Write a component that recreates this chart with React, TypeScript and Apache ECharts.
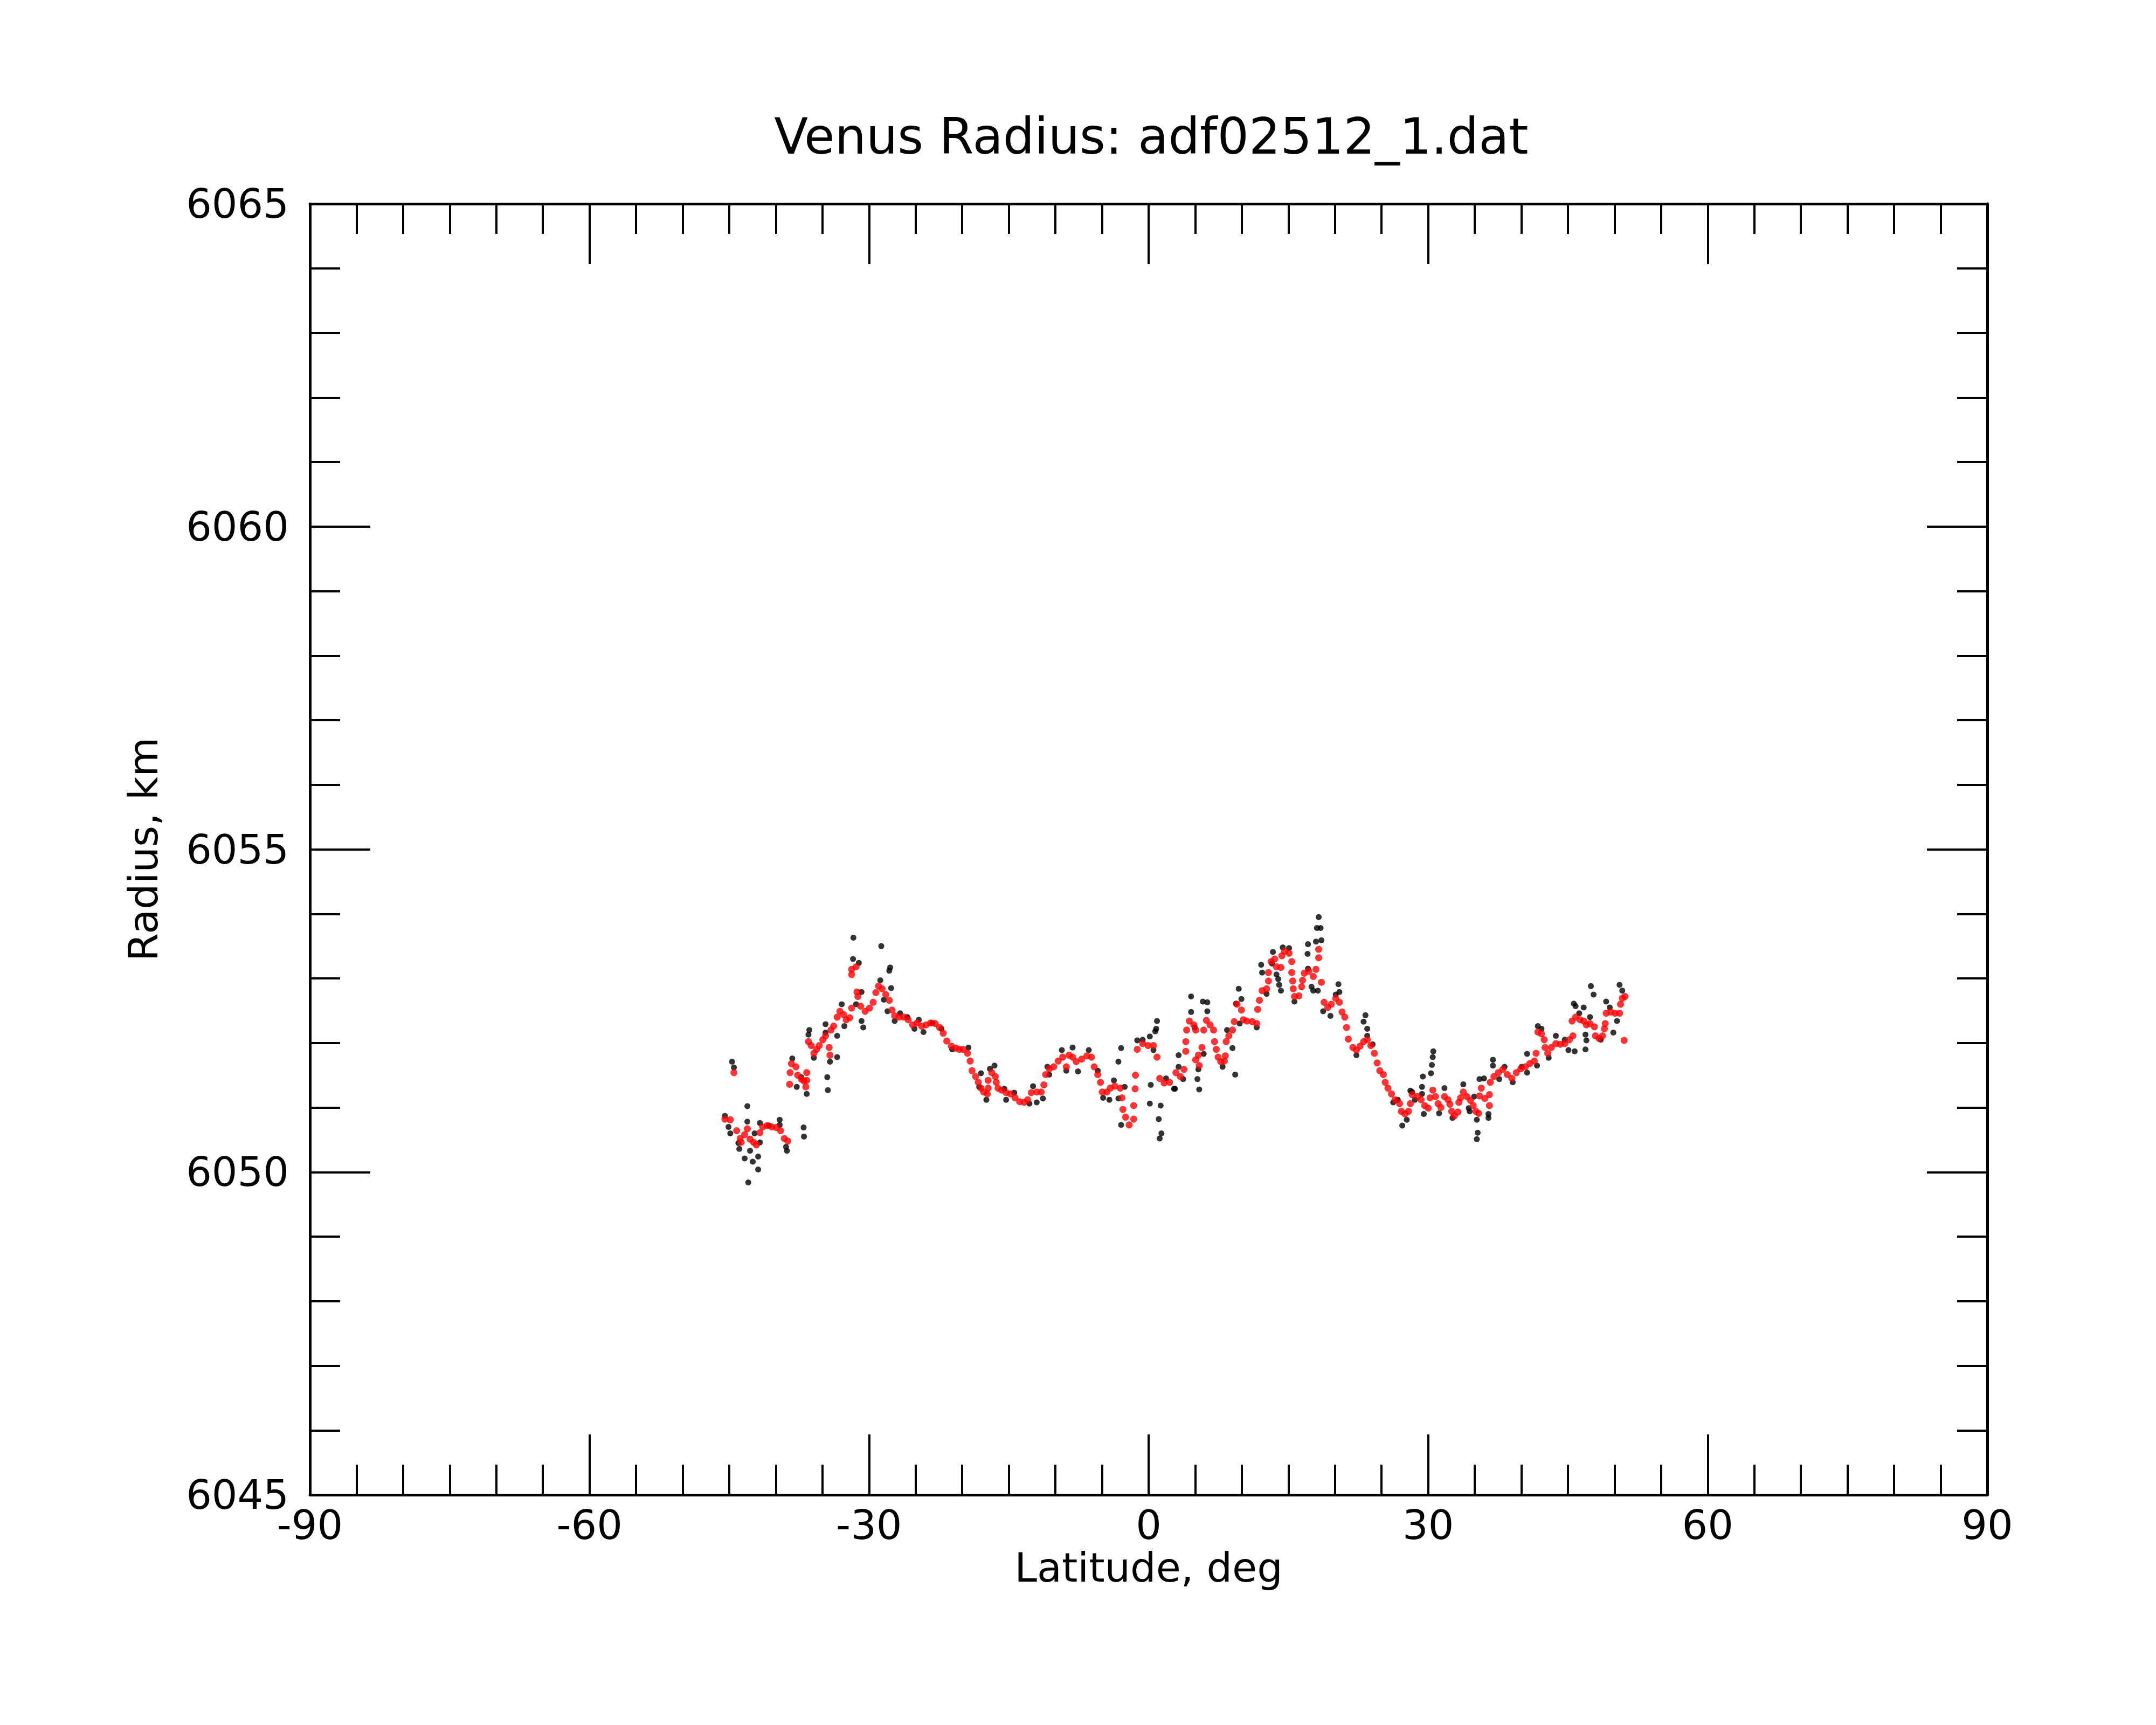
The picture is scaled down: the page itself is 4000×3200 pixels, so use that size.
import React, { useEffect, useRef } from "react";
import * as echarts from "echarts";

const TITLE = "Venus Radius: adf02512_1.dat";
const X_NAME = "Latitude, deg";
const Y_NAME = "Radius, km";
const X_MIN = -90;
const X_MAX = 90;
const X_STEP = 30;
const Y_MIN = 6045;
const Y_MAX = 6065;
const Y_STEP = 5;

// Black points: [latitude deg, radius km]
const blackPoints: [number, number][] = [
  [-44.7, 6051.71], [-44.5, 6051.62], [-45.47, 6050.87], [-45.08, 6050.7], [-44.89, 6050.6],
  [-44.02, 6050.45], [-43.92, 6050.36], [-43.35, 6050.21], [-43.06, 6051.02], [-43.06, 6050.78],
  [-42.77, 6050.33], [-42.48, 6050.16], [-41.9, 6050.24], [-41.9, 6050.04], [-42.96, 6049.84],
  [-42.28, 6050.6], [-41.71, 6050.76], [-41.71, 6050.46], [-40.74, 6050.72], [-39.59, 6050.81],
  [-39.59, 6050.73], [-38.91, 6050.39], [-38.81, 6050.33], [-37.02, 6050.69], [-36.98, 6050.55],
  [-38.24, 6051.76], [-37.76, 6051.32], [-37.27, 6051.47], [-36.69, 6051.21], [-36.41, 6052.2],
  [-36.5, 6052.13], [-35.92, 6051.77], [-34.67, 6052.29], [-34.67, 6052.16], [-34.48, 6051.47],
  [-34.42, 6051.27], [-34.19, 6051.71], [-33.42, 6051.78], [-33.42, 6052.11], [-32.93, 6052.6],
  [-32.65, 6052.26], [-31.68, 6053.63], [-31.72, 6053.3], [-31.1, 6053.24], [-30.81, 6052.79],
  [-30.81, 6052.34], [-30.62, 6052.24], [-31.39, 6052.6], [-28.69, 6053.5], [-27.73, 6053.17],
  [-27.83, 6053.12], [-28.79, 6052.97], [-27.63, 6052.85], [-28.02, 6052.49], [-28.41, 6052.67],
  [-27.25, 6052.34], [-26.67, 6052.46], [-25.9, 6052.4], [-25.13, 6052.22], [-24.66, 6052.36],
  [-24.16, 6052.17], [-23.2, 6052.31], [-22.23, 6052.22], [-21.08, 6051.9],
  [-19.34, 6051.93], [-17.99, 6051.53], [-18.18, 6051.32], [-17.41, 6051.12], [-17.03, 6051.6],
  [-16.54, 6051.65], [-15.48, 6051.29], [-15.29, 6051.12], [-14.42, 6051.23], [-12.79, 6051.06],
  [-12.4, 6051.33], [-12.01, 6051.08], [-11.34, 6051.14], [-10.86, 6051.63], [-10.66, 6051.51],
  [-9.31, 6051.89], [-8.83, 6051.57], [-8.16, 6051.93], [-7.58, 6051.56], [-6.42, 6051.89],
  [-5.46, 6051.57], [-4.88, 6051.15], [-4.21, 6051.12], [-3.72, 6051.42], [-2.57, 6051.32],
  [-3.24, 6051.14], [-2.95, 6050.73], [-2.95, 6051.92], [-3.24, 6051.71], [-1.22, 6052.04],
  [-0.64, 6052.05], [0.13, 6052.1], [0.71, 6052.18], [0.9, 6052.34], [0.81, 6052.22],
  [0.52, 6051.89], [0.23, 6051.35], [0.13, 6051.06], [1.29, 6051.03], [1.09, 6050.82],
  [1.38, 6050.6], [1.19, 6050.52], [1.87, 6051.45], [2.73, 6051.29],
  [2.83, 6051.29], [3.22, 6051.81], [3.22, 6051.63], [3.7, 6051.44], [4.56, 6052.72],
  [4.56, 6052.48], [4.95, 6052.24], [5.82, 6052.64], [6.3, 6052.63], [6.3, 6052.49],
  [5.91, 6051.83], [5.34, 6051.59], [5.24, 6051.44], [5.43, 6051.28], [7.94, 6051.63],
  [8.42, 6052.2], [9.0, 6051.92], [9.29, 6051.51], [9.67, 6052.84], [9.96, 6052.68],
  [9.38, 6052.61], [9.77, 6052.3], [11.6, 6052.24], [12.08, 6053.21], [12.18, 6053.09],
  [12.66, 6052.76], [13.34, 6053.41], [13.24, 6053.23], [13.72, 6053.06], [13.91, 6052.99],
  [14.01, 6052.9], [14.2, 6052.81], [14.4, 6053.48], [15.07, 6053.47], [15.65, 6052.64],
  [17.1, 6053.53], [17.06, 6053.38], [17.1, 6053.15], [17.48, 6052.87], [17.67, 6052.81],
  [18.16, 6052.81], [18.06, 6053.78], [18.25, 6053.95], [18.45, 6053.78], [17.96, 6053.57],
  [18.54, 6053.59], [18.73, 6052.49], [19.51, 6052.42], [20.08, 6052.75], [20.37, 6052.91],
  [20.47, 6052.79], [23.27, 6052.43], [23.07, 6052.33], [23.46, 6052.22], [23.46, 6052.11],
  [22.3, 6051.81], [24.04, 6051.98], [26.74, 6051.12], [26.25, 6051.08], [27.7, 6050.81],
  [27.22, 6050.72], [28.09, 6051.26],
  [28.28, 6051.24], [28.57, 6051.12], [29.53, 6050.9], [29.43, 6051.48], [29.34, 6051.32],
  [29.34, 6051.21], [30.3, 6051.53], [30.4, 6051.66], [30.49, 6051.78], [30.55, 6051.87],
  [31.17, 6050.91], [31.75, 6051.3], [32.61, 6050.84], [33.77, 6051.36], [34.35, 6050.99],
  [34.45, 6050.94], [34.93, 6051.17], [35.22, 6050.81], [35.31, 6050.61], [35.22, 6050.51],
  [35.51, 6051.44], [35.99, 6051.45], [36.47, 6050.9], [36.47, 6050.84], [36.95, 6051.74],
  [36.95, 6051.65], [37.63, 6051.44], [38.2, 6051.63], [39.07, 6051.39], [40.04, 6051.63],
  [40.62, 6051.83], [40.62, 6051.54], [41.68, 6051.65], [41.77, 6052.26], [42.16, 6052.22],
  [42.93, 6051.77], [43.7, 6052.11], [44.66, 6052.05], [45.05, 6051.89], [45.72, 6051.87],
  [45.63, 6052.61], [45.82, 6052.57], [46.21, 6052.46], [46.69, 6052.55], [46.88, 6052.13],
  [46.98, 6052.04], [46.88, 6051.9], [47.36, 6052.4], [47.46, 6052.88], [47.75, 6052.75],
  [48.52, 6052.05], [49.1, 6052.64], [49.48, 6052.55], [49.87, 6052.16], [50.26, 6052.34],
  [50.54, 6052.9], [50.83, 6052.81],
];

// Red points: [latitude deg, radius km]
const redPoints: [number, number][] = [
  [-44.5, 6051.54], [-45.47, 6050.82], [-44.89, 6050.81], [-44.21, 6050.64], [-43.83, 6050.52],
  [-43.73, 6050.46], [-43.35, 6050.58], [-43.06, 6050.67], [-42.77, 6050.51], [-42.38, 6050.46],
  [-42.09, 6050.42], [-41.71, 6050.61], [-41.42, 6050.7], [-40.93, 6050.72], [-40.45, 6050.7],
  [-39.97, 6050.69], [-39.49, 6050.64], [-39.1, 6050.52], [-38.72, 6050.48], [-38.53, 6051.36],
  [-38.47, 6051.54], [-38.33, 6051.68], [-37.85, 6051.63], [-37.66, 6051.5], [-37.27, 6051.44],
  [-36.98, 6051.41], [-36.69, 6051.54], [-36.69, 6051.42], [-36.79, 6051.32], [-36.5, 6052.02],
  [-36.21, 6051.96], [-35.92, 6051.84], [-35.63, 6051.9], [-35.34, 6051.96], [-34.96, 6052.05],
  [-34.67, 6052.11], [-34.28, 6051.93], [-34.19, 6051.81], [-34.09, 6052.2], [-33.8, 6052.26],
  [-33.42, 6052.4], [-33.13, 6052.49], [-32.74, 6052.44], [-32.45, 6052.36], [-32.07, 6052.39],
  [-31.87, 6052.54], [-31.87, 6053.14], [-31.87, 6053.06], [-31.39, 6053.18], [-31.3, 6052.79],
  [-31.2, 6052.72], [-30.91, 6052.57], [-30.43, 6052.49], [-29.95, 6052.54], [-29.56, 6052.63],
  [-29.27, 6052.78], [-28.98, 6052.88], [-28.6, 6052.84], [-28.21, 6052.75], [-27.83, 6052.66],
  [-27.54, 6052.51], [-27.25, 6052.42], [-26.77, 6052.4], [-26.28, 6052.4], [-25.8, 6052.36],
  [-25.32, 6052.28], [-24.84, 6052.31], [-24.36, 6052.26], [-23.87, 6052.28], [-23.39, 6052.31],
  [-22.91, 6052.3], [-22.43, 6052.24], [-22.04, 6052.15], [-21.66, 6052.03], [-21.17, 6051.95],
  [-20.69, 6051.92], [-20.31, 6051.9],
  [-19.92, 6051.9], [-19.44, 6051.84], [-19.15, 6051.72], [-18.95, 6051.57], [-18.57, 6051.48],
  [-18.28, 6051.39], [-17.99, 6051.3], [-17.7, 6051.24], [-17.31, 6051.21], [-17.22, 6051.3],
  [-17.22, 6051.42], [-16.83, 6051.54], [-16.45, 6051.48], [-16.35, 6051.39], [-16.16, 6051.3],
  [-15.77, 6051.27], [-15.29, 6051.23], [-14.81, 6051.21], [-14.33, 6051.15], [-13.84, 6051.09],
  [-13.36, 6051.08], [-12.98, 6051.12], [-12.59, 6051.23], [-12.01, 6051.24], [-11.53, 6051.24],
  [-11.24, 6051.35], [-11.05, 6051.51], [-10.66, 6051.6], [-10.18, 6051.63], [-9.7, 6051.72],
  [-9.22, 6051.78], [-8.83, 6051.63], [-8.54, 6051.81], [-8.16, 6051.78], [-7.77, 6051.71],
  [-7.19, 6051.75], [-6.62, 6051.8], [-6.13, 6051.78], [-5.84, 6051.63], [-5.46, 6051.51],
  [-5.17, 6051.39], [-4.98, 6051.24], [-4.49, 6051.24], [-4.11, 6051.3], [-3.63, 6051.33],
  [-3.05, 6051.3], [-2.86, 6051.15], [-2.76, 6050.97], [-2.47, 6050.85], [-2.09, 6050.73],
  [-1.6, 6050.82], [-1.6, 6051.03], [-1.45, 6051.29], [-1.41, 6051.5], [-1.22, 6051.9],
  [-0.64, 6051.99], [-0.06, 6051.96], [0.52, 6051.96], [0.9, 6051.78], [1.19, 6051.45],
  [1.67, 6051.38], [2.25, 6051.39],
  [2.93, 6051.54], [3.41, 6051.48], [3.79, 6051.59], [3.99, 6051.87], [3.99, 6052.02],
  [4.08, 6052.2], [4.37, 6052.34], [4.85, 6052.28], [5.05, 6052.2], [5.34, 6051.81],
  [5.72, 6051.93], [5.05, 6051.74], [5.43, 6051.65], [5.91, 6052.2], [6.2, 6052.35],
  [6.59, 6052.28], [6.97, 6052.2], [7.07, 6052.02], [7.26, 6051.9], [7.46, 6051.78],
  [7.75, 6051.71], [8.13, 6051.72], [8.23, 6051.8], [8.32, 6052.02], [8.61, 6052.11],
  [9.0, 6052.2], [9.19, 6052.33], [9.48, 6052.6], [9.96, 6052.51], [10.16, 6052.36],
  [10.54, 6052.34], [11.12, 6052.33], [11.6, 6052.3], [11.7, 6052.52], [11.89, 6052.66],
  [12.18, 6052.81], [12.66, 6052.84], [12.86, 6053.09], [12.86, 6052.96], [13.14, 6053.26],
  [13.53, 6053.3], [13.72, 6053.18], [14.2, 6053.17], [14.3, 6053.35], [14.59, 6053.42],
  [15.07, 6053.39], [15.36, 6053.26], [15.36, 6053.09], [15.46, 6052.96], [15.52, 6052.84],
  [15.65, 6052.72], [16.13, 6052.73], [16.42, 6052.87], [16.52, 6052.97], [16.71, 6053.08],
  [17.19, 6053.11], [17.67, 6053.03], [17.96, 6053.14], [18.25, 6053.32], [18.25, 6053.45],
  [18.54, 6052.94], [18.83, 6052.63], [19.22, 6052.55], [19.6, 6052.6], [20.08, 6052.69],
  [20.47, 6052.63], [20.76, 6052.48], [21.05, 6052.4], [21.24, 6052.24], [21.43, 6052.06],
  [21.92, 6051.93], [22.3, 6051.89], [22.69, 6051.95], [23.07, 6052.02], [23.46, 6052.05],
  [23.84, 6051.96], [24.23, 6051.84], [24.52, 6051.69], [24.81, 6051.57], [25.19, 6051.51],
  [25.39, 6051.39], [25.68, 6051.3], [26.06, 6051.21], [26.45, 6051.12], [26.93, 6051.06],
  [27.12, 6050.94], [27.51, 6050.9], [27.89, 6050.94], [28.09, 6051.06], [28.28, 6051.2],
  [28.86, 6051.17], [29.24, 6051.12], [29.63, 6051.03], [30.01, 6050.99], [30.2, 6051.15],
  [30.49, 6051.27], [30.78, 6051.17], [31.07, 6051.06], [31.36, 6051.0], [31.75, 6051.17],
  [32.13, 6051.12], [32.33, 6051.05], [32.52, 6050.94], [32.81, 6050.87], [33.19, 6050.93],
  [33.29, 6051.08], [33.48, 6051.15], [33.77, 6051.24], [34.16, 6051.17], [34.54, 6051.11],
  [34.83, 6051.03], [35.12, 6050.94], [35.41, 6050.91], [35.51, 6051.18], [35.7, 6051.3],
  [36.08, 6051.14], [36.57, 6051.2], [36.57, 6051.03], [36.66, 6051.39], [37.05, 6051.48],
  [37.53, 6051.54], [38.01, 6051.59], [38.49, 6051.51], [38.98, 6051.45], [39.46, 6051.54],
  [39.94, 6051.6], [40.42, 6051.63], [40.9, 6051.68], [41.39, 6051.72], [41.58, 6051.84],
  [41.77, 6052.17], [42.16, 6052.14], [42.45, 6052.05], [42.54, 6051.93], [42.83, 6051.84],
  [43.22, 6051.93], [43.7, 6051.99], [44.18, 6051.98], [44.66, 6051.99], [45.15, 6052.05],
  [45.53, 6052.11], [45.44, 6052.34], [45.82, 6052.4], [46.3, 6052.36], [46.69, 6052.34],
  [46.98, 6052.28], [47.36, 6052.3], [47.84, 6052.25], [47.94, 6052.11], [48.33, 6052.07],
  [48.71, 6052.11], [48.91, 6052.22], [49.0, 6052.3], [49.1, 6052.46], [49.58, 6052.48],
  [50.06, 6052.46], [50.54, 6052.46], [50.64, 6052.6], [50.83, 6052.69], [51.12, 6052.72],
  [51.03, 6052.04],
];

const FONT = "DejaVu Sans";

export default function App() {
  const ref = useRef<HTMLDivElement>(null);

  useEffect(() => {
    document.body.style.margin = "0";
    if (!ref.current) return;
    const chart = echarts.init(ref.current, null, { renderer: "svg" });

    const lineStyle = { color: "#000", width: 5 };
    const tickStyle = { color: "#000", width: 4 };
    const labelStyle = { fontSize: 75, color: "#000", fontFamily: FONT };
    const plain = (v: number) => String(v);

    const xAxis = (position: string, showLabel: boolean) => ({
      type: "value",
      position,
      min: X_MIN,
      max: X_MAX,
      interval: X_STEP,
      name: showLabel ? X_NAME : "",
      nameLocation: "middle",
      nameGap: 97,
      nameTextStyle: labelStyle,
      axisLine: { show: true, onZero: false, lineStyle },
      axisTick: { show: true, inside: true, length: 112, lineStyle: tickStyle },
      minorTick: { show: true, splitNumber: 6, length: 56, lineStyle: tickStyle },
      splitLine: { show: false },
      minorSplitLine: { show: false },
      axisLabel: {
        show: showLabel, margin: 18, showMinLabel: true, showMaxLabel: true,
        formatter: plain, ...labelStyle,
      },
    });

    const yAxis = (position: string, showLabel: boolean) => ({
      type: "value",
      position,
      min: Y_MIN,
      max: Y_MAX,
      interval: Y_STEP,
      name: showLabel ? Y_NAME : "",
      nameLocation: "middle",
      nameGap: 272,
      nameTextStyle: labelStyle,
      axisLine: { show: true, onZero: false, lineStyle },
      axisTick: { show: true, inside: true, length: 112, lineStyle: tickStyle },
      minorTick: { show: true, splitNumber: 5, length: 56, lineStyle: tickStyle },
      splitLine: { show: false },
      minorSplitLine: { show: false },
      axisLabel: {
        show: showLabel, margin: 39, showMinLabel: true, showMaxLabel: true,
        formatter: plain, ...labelStyle,
      },
    });

    chart.setOption({
      animation: false,
      backgroundColor: "#fff",
      textStyle: { fontFamily: FONT },
      title: {
        text: TITLE,
        left: 2131,
        top: 202,
        textAlign: "center",
        textStyle: { fontSize: 92, fontWeight: "normal", color: "#000", fontFamily: FONT },
      },
      grid: { left: 575, right: 313, top: 378, bottom: 427, containLabel: false },
      xAxis: [xAxis("bottom", true), xAxis("top", false)],
      yAxis: [yAxis("left", true), yAxis("right", false)],
      series: [
        {
          type: "scatter",
          xAxisIndex: 0,
          yAxisIndex: 0,
          data: blackPoints,
          symbol: "circle",
          symbolSize: 11,
          itemStyle: { color: "#000" },
          silent: true,
        },
        {
          type: "scatter",
          xAxisIndex: 0,
          yAxisIndex: 0,
          data: redPoints,
          symbol: "circle",
          symbolSize: 13,
          itemStyle: { color: "#ff0000" },
          silent: true,
        },
      ],
    });

    return () => chart.dispose();
  }, []);

  return <div ref={ref} style={{ width: 4000, height: 3200, background: "#fff" }} />;
}
